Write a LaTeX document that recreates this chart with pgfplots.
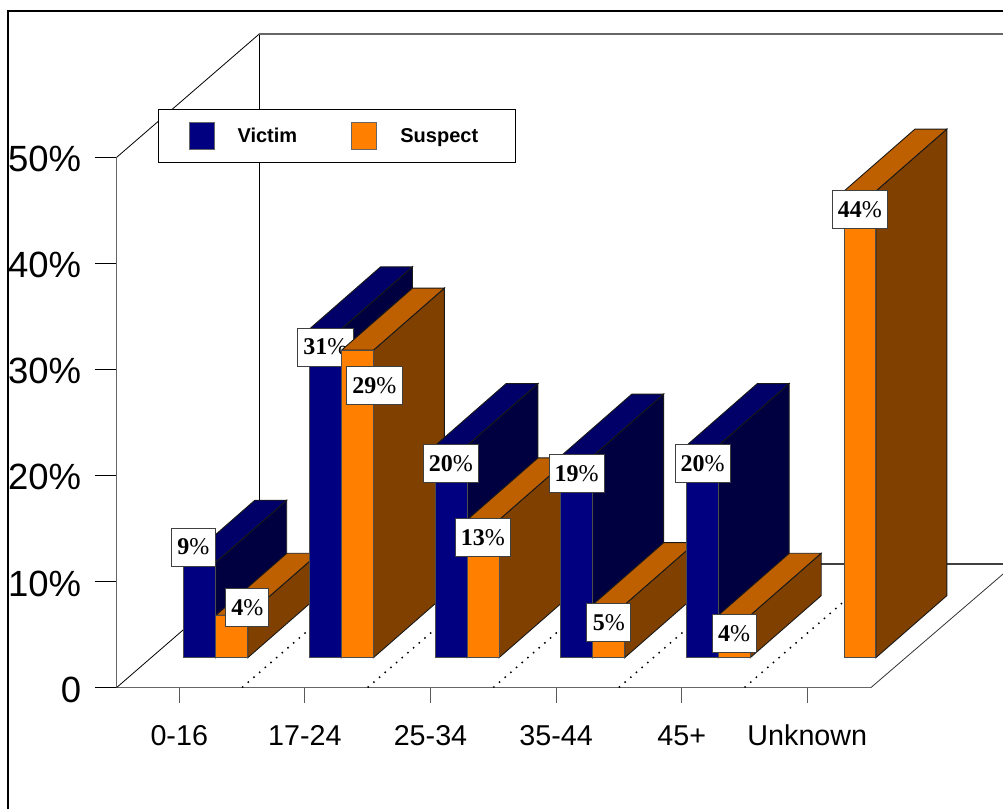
\documentclass[border=0pt]{standalone}
\usepackage{fontspec}
\setmainfont{Liberation Sans}
\newfontfamily\valfont{Liberation Serif}
\usepackage{pgfplots}
\pgfplotsset{compat=1.18}

\definecolor{vicFront}{HTML}{000080}
\definecolor{vicTop}{HTML}{000068}
\definecolor{vicSide}{HTML}{000040}
\definecolor{susFront}{HTML}{FF8000}
\definecolor{susTop}{HTML}{BF6000}
\definecolor{susSide}{HTML}{804000}

% depth of a bar, and the height of the bars' foot above the floor's front edge, in axis units
\newcommand{\bw}{0.2535}
\newcommand{\ddx}{0.565}
\newcommand{\ddy}{5.85}
\newcommand{\base}{2.81}

% \drawbar{left edge}{value}{colour stem}
\newcommand{\drawbar}[3]{%
  \pgfmathsetmacro\xa{#1}%
  \pgfmathsetmacro\xb{#1+\bw}%
  \pgfmathsetmacro\xc{#1+\bw+\ddx}%
  \pgfmathsetmacro\xd{#1+\ddx}%
  \pgfmathsetmacro\yt{\base+#2}%
  \pgfmathsetmacro\ytb{\base+#2+\ddy}%
  \pgfmathsetmacro\ybb{\base+\ddy}%
  \addplot[forget plot,fill=#3Side,draw=black!90,line width=0.9pt] coordinates
    {(\xb,\base) (\xc,\ybb) (\xc,\ytb) (\xb,\yt)} --cycle;
  \addplot[forget plot,fill=#3Top,draw=black!90,line width=0.9pt] coordinates
    {(\xa,\yt) (\xb,\yt) (\xc,\ytb) (\xd,\ytb)} --cycle;
  \addplot[forget plot,fill=#3Front,draw=black!70,line width=0.9pt] coordinates
    {(\xa,\base) (\xb,\base) (\xb,\yt) (\xa,\yt)} --cycle;
}
% \vallabel{centre x}{centre y}{width}{value}
\newcommand{\vallabel}[4]{%
  \node[draw=black!75,line width=0.9pt,fill=white,inner sep=0pt,
        minimum width=#3pt,minimum height=38pt,
        font=\valfont\bfseries\fontsize{24}{26}\selectfont]
    at (axis cs:{(#1-179.3)/125.6},{(687.5-#2)/10.604}) {#4{\mdseries\%}};
}

\begin{document}
\begin{tikzpicture}[x=1pt,y=1pt]
\useasboundingbox (0,0) rectangle (1003,809);
\draw[line width=2.4pt,black] (8,0) -- (8,798) -- (1003,798);
\begin{axis}[
  at={(116.7pt,121.5pt)}, anchor=south west,
  scale only axis, width=754.3pt, height=530.2pt,
  xmin=-0.498, xmax=5.507, ymin=0, ymax=50,
  clip=false,
  axis x line*=bottom, axis y line*=left,
  axis line style={-,draw=black!60,line width=1pt},
  tick align=outside,
  major tick length=22pt, minor tick length=15pt,
  xtick={0,1,2,3,4,5}, minor xtick={0,1,2,3,4,5},
  xticklabels={0-16,17-24,25-34,35-44,45+,Unknown},
  ytick={0,10,20,30,40,50},
  yticklabels={0,10\%,20\%,30\%,40\%,50\%},
  major x tick style={draw=none},
  minor x tick style={draw=black!65,line width=1pt},
  major y tick style={draw=black,line width=0.9pt},
  ticklabel style={text=black},
  xticklabel style={font=\fontsize{28.7}{32}\selectfont,yshift=-10pt,
    text height=22pt,text depth=0pt},
  yticklabel style={font=\fontsize{36.5}{38}\selectfont,xshift=-10pt,yshift=-2pt},
  legend style={at={(axis cs:-0.167,54.53)},anchor=north west,
    draw=black,line width=0.9pt,fill=white,inner xsep=30.3pt,inner ysep=12.7pt,
    font=\bfseries\fontsize{20}{22}\selectfont,
    legend cell align=left,
    nodes={inner sep=0pt},
    /tikz/column 1/.style={column sep=22.7pt},
    /tikz/column 2/.style={column sep=54pt},
    /tikz/column 3/.style={column sep=23.4pt}},
  legend columns=2,
  legend image code/.code={\draw[#1] (0pt,-13.3pt) rectangle (25pt,13.3pt);},
]
\addlegendimage{fill=vicFront,draw=black!60,line width=0.8pt}
\addlegendentry{Victim}
\addlegendimage{fill=susFront,draw=black!60,line width=0.8pt}
\addlegendentry{Suspect\rule{7.2pt}{0pt}}

% walls and floor
\addplot[forget plot,black,line width=0.8pt] coordinates {(-0.498,0) (0.637,11.65)};
\addplot[forget plot,black,line width=0.8pt] coordinates {(-0.498,50) (0.637,61.63)};
\addplot[forget plot,black,line width=0.9pt] coordinates {(0.637,11.65) (0.637,61.63)};
\addplot[forget plot,black!60,line width=1.3pt] coordinates {(0.637,61.63) (6.558,61.63)};
\addplot[forget plot,black!75,line width=1.3pt] coordinates {(0.637,11.65) (6.558,11.65)};
\addplot[forget plot,black!80,line width=0.8pt] coordinates {(5.507,0) (6.558,10.7)};

% dotted separators on the floor
\addplot[forget plot,black,line width=1.5pt,dash pattern=on 1.5pt off 6pt] coordinates {(0.5,0) (1.635,11.63)};
\addplot[forget plot,black,line width=1.5pt,dash pattern=on 1.5pt off 6pt] coordinates {(1.5,0) (2.635,11.63)};
\addplot[forget plot,black,line width=1.5pt,dash pattern=on 1.5pt off 6pt] coordinates {(2.5,0) (3.635,11.63)};
\addplot[forget plot,black,line width=1.5pt,dash pattern=on 1.5pt off 6pt] coordinates {(3.5,0) (4.635,11.63)};
\addplot[forget plot,black,line width=1.5pt,dash pattern=on 1.5pt off 6pt] coordinates {(4.5,0) (5.635,11.63)};

% bars, left to right, each followed by its label
\drawbar{0.037}{9}{vic}
\vallabel{193.3}{547}{44.5}{9}
\drawbar{0.292}{4}{sus}
\vallabel{247.3}{607.8}{43}{4}
\drawbar{1.037}{31}{vic}
\vallabel{325.3}{347}{56}{31}
\drawbar{1.292}{29}{sus}
\vallabel{374.3}{385.2}{56}{29}
\drawbar{2.037}{20}{vic}
\vallabel{450.8}{463.4}{55}{20}
\drawbar{2.292}{13}{sus}
\vallabel{483}{537.8}{54.5}{13}
\drawbar{3.037}{19}{vic}
\vallabel{576.7}{473.7}{55}{19}
\drawbar{3.292}{5}{sus}
\vallabel{608.8}{622.7}{44}{5}
\drawbar{4.037}{20}{vic}
\vallabel{702.7}{463.5}{55}{20}
\drawbar{4.292}{4}{sus}
\vallabel{734}{633.3}{44}{4}
\drawbar{5.292}{44}{sus}
\vallabel{859.8}{209.7}{55}{44}
\end{axis}
\end{tikzpicture}
\end{document}
